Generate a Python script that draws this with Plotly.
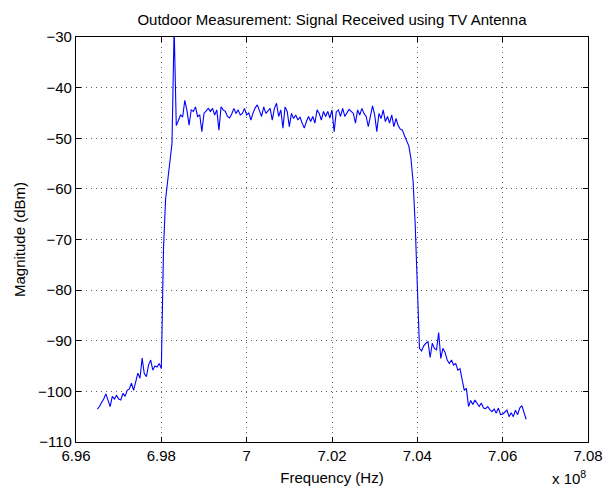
import numpy as np
import plotly.graph_objects as go

# Frequency sweep (Hz)
FREQ_START_HZ = 696.5e6
FREQ_STEP_HZ = 0.05e6

# Magnitude (dBm), segment by segment
noise_left = [-103.5, -103, -102.2, -101.5, -100.5, -102, -103, -101, -101.5, -100.8,
              -101.5, -101.7, -100.4, -101, -99.8, -99.5, -98.4, -99.8, -98, -96.4,
              -97.4, -93.4, -96.5, -97.1, -94.8, -93.8, -95.8, -95, -95.2, -94.5,
              -95.5]
rising_edge = [-72, -62, -58, -55, -51, -28, -47.5]
plateau = [-46.5, -45.4, -45.8, -42.5, -44.5, -47.4, -44.4, -44.7, -43.8, -45.7,
           -45.4, -48.7, -45.1, -44.7, -44.1, -44.7, -44.1, -45.4, -44.4, -48.4,
           -43.8, -44.4, -44.7, -45.7, -46, -45.2, -44.1, -45.1, -44.4, -45.4,
           -45.1, -44.1, -45.4, -45, -46.4, -45, -44, -43.4, -44.4, -45.7,
           -43.8, -45.1, -44.6, -44.1, -46.4, -44.1, -43.1, -45.7, -44.4, -48,
           -43.8, -44.7, -47.7, -45.1, -46.1, -45.4, -46.4, -45.8, -47, -48,
           -46.7, -45.7, -46.7, -45.7, -47, -44.4, -45.1, -46.4, -44.7, -45.7,
           -44.7, -46, -44.4, -48.7, -44.8, -44.4, -45.7, -44.1, -45.7, -45.1,
           -44.3, -44.7, -45.1, -47, -44.4, -45.4, -44.1, -45.1, -45.7, -47.7,
           -45.7, -43.6, -45.4, -48.7, -45.1, -46.1, -44.4, -46.7, -45.7, -47,
           -45.4, -47.7, -46.1, -47.5, -48.2, -48.4, -49.5, -50.5, -51.5]
falling_edge = [-54, -58.5, -67, -80, -91.5]
noise_right = [-92, -91, -90.5, -90.2, -93.3, -90.5, -91.5, -91.8, -88.4, -93.5,
               -91.5, -92.3, -93.8, -94.5, -93.8, -94.8, -94.5, -95.8, -95.5, -98,
               -99.8, -99.4, -103, -101.8, -102.6, -101.7, -102.3, -103, -102.3, -103.3,
               -103.4, -103, -103.6, -104, -103.5, -104.3, -103.3, -104.6, -104.5, -104,
               -103.7, -105, -104.2, -105, -103.7, -104.6, -103.3, -102.8, -104.3, -105.5]

magnitude_dbm = noise_left + rising_edge + plateau + falling_edge + noise_right
frequency_hz = FREQ_START_HZ + FREQ_STEP_HZ * np.arange(len(magnitude_dbm))

x_tick_vals = [6.96e8, 6.98e8, 7.00e8, 7.02e8, 7.04e8, 7.06e8, 7.08e8]
x_tick_text = ["6.96", "6.98", "7", "7.02", "7.04", "7.06", "7.08"]
y_tick_vals = [-110, -100, -90, -80, -70, -60, -50, -40, -30]

FONT = "Liberation Sans, Arial, Helvetica, sans-serif"
FS = 15

fig = go.Figure()
fig.add_trace(go.Scatter(x=frequency_hz, y=magnitude_dbm, mode="lines",
                         line=dict(color="#0000ff", width=1.1), showlegend=False))

axis_common = dict(showline=True, linecolor="black", linewidth=1.3, mirror="ticks",
                   ticks="inside", ticklen=5, tickcolor="black", showgrid=True,
                   gridcolor="rgba(0,0,0,0.65)", griddash="1px,4px", gridwidth=1,
                   zeroline=False, automargin=False,
                   tickfont=dict(family=FONT, size=FS, color="black"))

fig.update_xaxes(range=[6.96e8, 7.08e8], tickvals=x_tick_vals, ticktext=x_tick_text,
                 title=dict(text="Frequency (Hz)", font=dict(family=FONT, size=FS, color="black"),
                            standoff=9), **axis_common)
fig.update_yaxes(range=[-110, -30], tickvals=y_tick_vals,
                 title=dict(text="Magnitude (dBm)", font=dict(family=FONT, size=FS, color="black"),
                            standoff=8), **axis_common)

fig.update_layout(
    width=603, height=490,
    margin=dict(l=76, r=15, t=37, b=48),
    paper_bgcolor="white", plot_bgcolor="white",
    font=dict(family=FONT, size=FS, color="black"),
    title=dict(text="Outdoor Measurement: Signal Received using TV Antenna",
               x=0.5, xref="paper", xanchor="center",
               y=1 - 20 / 490, yref="container", yanchor="middle",
               font=dict(family=FONT, size=FS, color="black")),
    annotations=[dict(text="x 10<sup>8</sup>", x=1.0, xref="paper", xanchor="right",
                      y=-0.06, yref="paper", yanchor="top", showarrow=False,
                      font=dict(family=FONT, size=FS, color="black"))],
)

fig.write_html("out.html")
